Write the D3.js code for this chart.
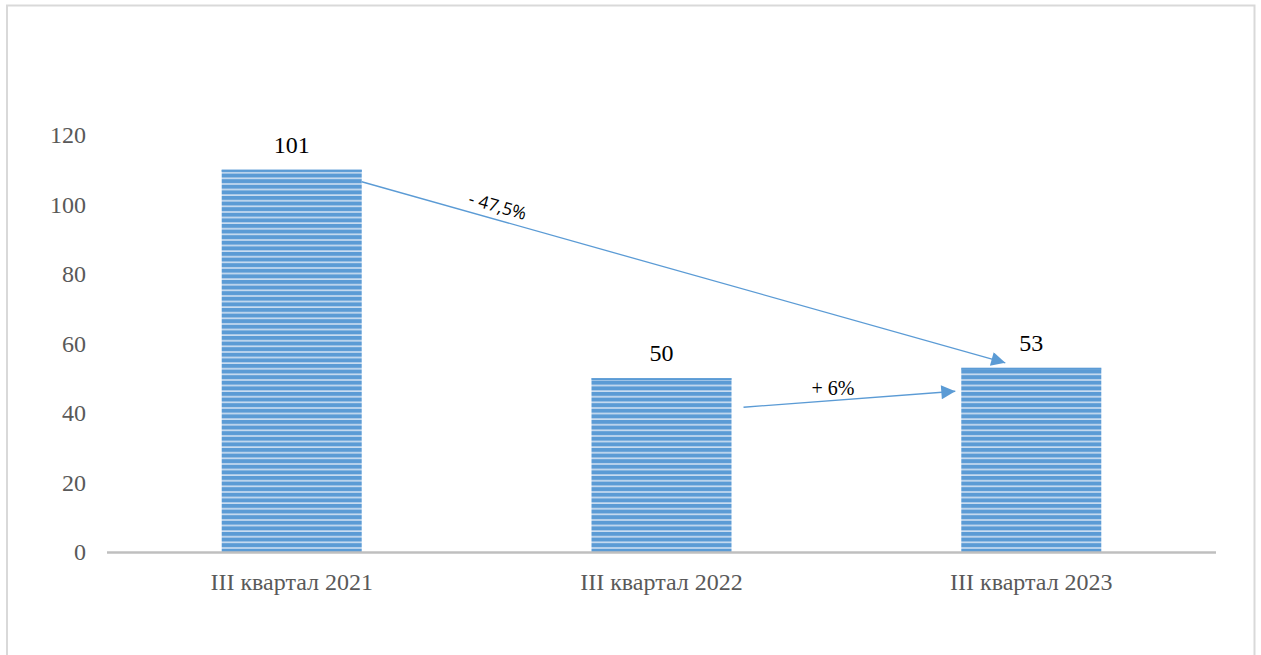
<!DOCTYPE html>
<html><head><meta charset="utf-8">
<script src="https://cdn.jsdelivr.net/npm/d3@7"></script>
<style>body{margin:0;background:#fff;}svg{display:block;}</style>
</head><body>
<svg id="c" width="1261" height="655"></svg>
<script>
const categories = ["III квартал 2021", "III квартал 2022", "III квартал 2023"];
const barValues = [110, 50, 53];
const valueLabels = ["101", "50", "53"];
const yTicks = [0, 20, 40, 60, 80, 100, 120];
const changes = [
  {from: 0, to: 2, label: "- 47,5%"},
  {from: 1, to: 2, label: "+ 6%"}
];

(function(){
const svg = d3.select("#c");
const W = 1261, H = 655;
const pLeft = 107, pRight = 1216, pTop = 135, pBottom = 552;
const SERIF = '"Liberation Serif", "Times New Roman", serif';

svg.append("path").attr("d", `M7,${H+5} V5.5 H1254.5 V${H+5}`)
  .attr("fill","none").attr("stroke","#d9d9d9").attr("stroke-width",2);

const x = d3.scaleBand().domain(categories).range([pLeft, pRight]).paddingInner(0.621).paddingOuter(0.31);
const y = d3.scaleLinear().domain([0, 120]).range([pBottom, pTop]);

const defs = svg.append("defs");
const pat = defs.append("pattern").attr("id","stripes").attr("patternUnits","userSpaceOnUse")
  .attr("width", 10).attr("height", 5.6);
pat.append("rect").attr("width",10).attr("height",5.6).attr("fill","#5b9bd5");
pat.append("rect").attr("y",4.0).attr("width",10).attr("height",1.5).attr("fill","#d6e4f3");

const bw = 140;
svg.selectAll("rect.bar").data(categories).enter().append("rect")
  .attr("class","bar")
  .attr("x", d => x(d) + x.bandwidth()/2 - bw/2)
  .attr("y", (d,i) => y(barValues[i]))
  .attr("width", bw)
  .attr("height", (d,i) => y(0) - y(barValues[i]))
  .attr("fill","url(#stripes)");
svg.selectAll("rect.topedge").data(categories).enter().append("rect")
  .attr("class","topedge")
  .attr("x", d => x(d) + x.bandwidth()/2 - bw/2)
  .attr("y", (d,i) => y(barValues[i]))
  .attr("width", bw).attr("height", 2)
  .attr("fill","#5b9bd5");

const yAxis = d3.axisLeft(y).tickValues(yTicks).tickSize(0).tickPadding(21);
const ga = svg.append("g").attr("transform",`translate(${pLeft},0)`).call(yAxis);
ga.select(".domain").remove();
ga.attr("font-family", SERIF).attr("font-size", 24);
ga.selectAll("text").style("font-family", SERIF).style("font-size","24px").attr("fill","#595959");

svg.append("line").attr("x1",pLeft).attr("x2",pRight).attr("y1",pBottom+0.5).attr("y2",pBottom+0.5)
  .attr("stroke","#bfbfbf").attr("stroke-width",2.5);

const xAxis = d3.axisBottom(x).tickSize(0).tickPadding(21);
const gx = svg.append("g").attr("transform",`translate(0,${pBottom})`).call(xAxis);
gx.select(".domain").remove();
gx.attr("font-family", SERIF).attr("font-size", 24);
gx.selectAll("text").style("font-family", SERIF).style("font-size","24px").attr("fill","#595959");

svg.selectAll("text.val").data(categories).enter().append("text")
  .attr("class","val")
  .attr("x", d => x(d) + x.bandwidth()/2)
  .attr("y", (d,i) => y(barValues[i]) - 17)
  .attr("text-anchor","middle")
  .style("font-family", SERIF).style("font-size","24px").attr("fill","#000")
  .text((d,i) => valueLabels[i]);

defs.append("marker").attr("id","arr").attr("viewBox","0 0 10 10").attr("refX",10).attr("refY",5)
  .attr("markerWidth",17).attr("markerHeight",14).attr("markerUnits","userSpaceOnUse")
  .attr("orient","auto")
  .append("path").attr("d","M0,0 L10,5 L0,10 Z").attr("fill","#5b9bd5");

function cx(i){ return x(categories[i]) + x.bandwidth()/2; }
const a1 = {x1: cx(changes[0].from)+bw/2, y1: y(barValues[0]) + 12, x2: cx(changes[0].to) - 26, y2: y(barValues[2]) - 5};
const a2 = {x1: cx(changes[1].from)+bw/2 + 12, y1: y(barValues[1]) + 29, x2: cx(changes[1].to) - bw/2 - 6, y2: y(barValues[1]) + 13};
[a1, a2].forEach(a => {
  svg.append("line").attr("x1",a.x1).attr("y1",a.y1).attr("x2",a.x2).attr("y2",a.y2)
    .attr("stroke","#5b9bd5").attr("stroke-width",1.3).attr("marker-end","url(#arr)");
});

const ang = Math.atan2(a1.y2-a1.y1, a1.x2-a1.x1) * 180/Math.PI;
svg.append("text").attr("transform",`translate(496,212) rotate(${ang})`)
  .attr("text-anchor","middle").style("font-family","'Open Sans', sans-serif").style("font-size","17.5px").attr("fill","#000")
  .text(changes[0].label);
svg.append("text").attr("x",833).attr("y",395)
  .attr("text-anchor","middle").style("font-family", SERIF).style("font-size","20px").attr("fill","#000")
  .text(changes[1].label);
})();
</script>
</body></html>
